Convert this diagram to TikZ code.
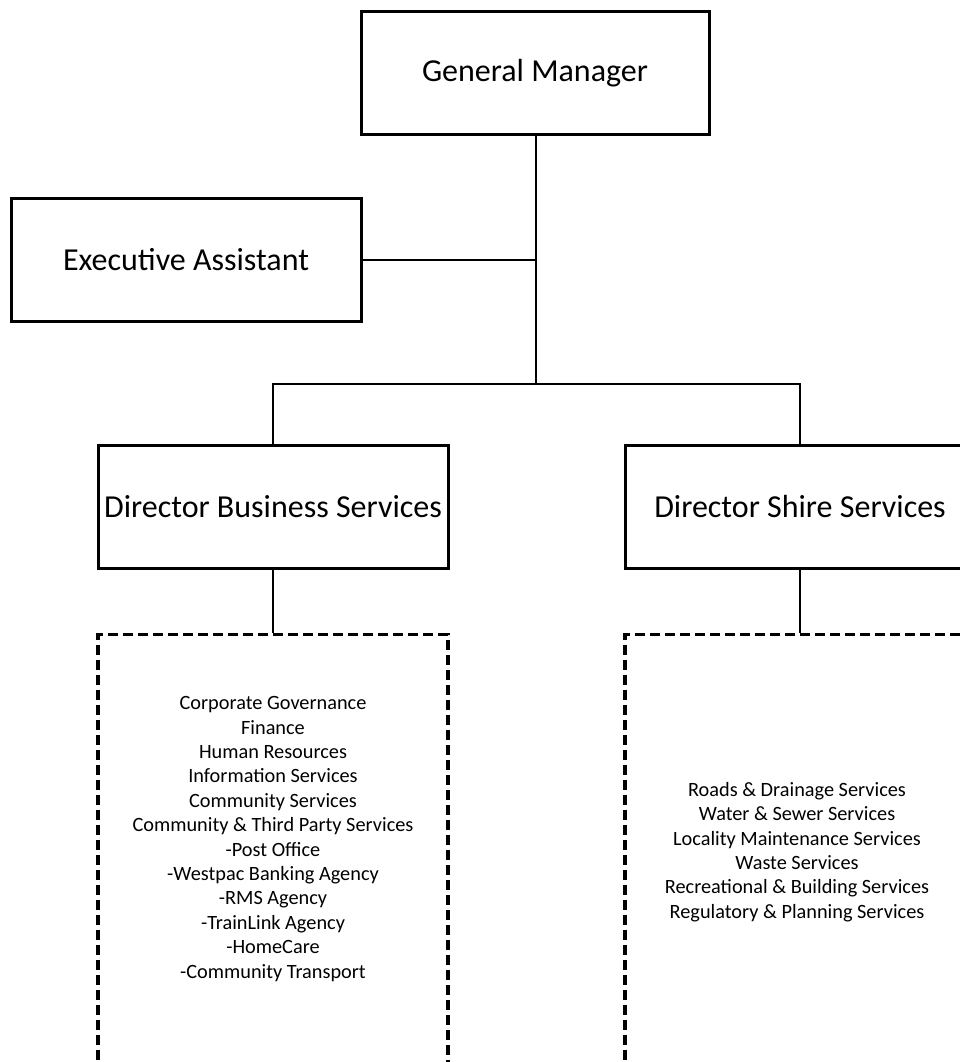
\documentclass[tikz,border=0pt]{standalone}
\usepackage{fontspec}
\setmainfont{Carlito}
\usetikzlibrary{positioning}
\tikzset{
  base/.style = {
    draw, line width=3pt, minimum height=123pt, minimum width=350pt,
    inner sep=0pt, text centered, font=\fontsize{32}{38}\selectfont
  },
  rolebox/.style = {
    base
  },
  unitbox/.style = {
    draw, line width=3.2pt, dash pattern=on 10pt off 5pt,
    minimum width=350pt, minimum height=520pt, inner sep=0pt
  },
  unitlist/.style = {
    align=center, inner sep=0pt, font=\fontsize{20.3}{24.4}\selectfont
  },
  link/.style = {
    line width=1.9pt
  }
}

\begin{document}
\begin{tikzpicture}[
  x=1pt, y=-1pt,
  node distance = 63pt and 174pt
  ]

  \useasboundingbox (0,0) rectangle (960,1062);
  \clip (0,0) rectangle (960,1062);

  % Top of the chart
  \node[rolebox, minimum width=348pt, minimum height=122pt] (gm) at (535,73) {General Manager};
  \node[rolebox] (ea) at (186,260) {Executive Assistant};

  % Directors
  \node[rolebox] (dbs) at (273,507) {Director Business Services};
  \node[rolebox, right=of dbs] (dss) {Director Shire Services};

  % Units under each director
  \node[unitbox, below=of dbs, anchor=north] (bizunits) {};
  \node[unitbox, below=of dss, anchor=north] (shireunits) {};

  \node[unitlist] (bizlist) at (273,839) {Corporate Governance\\Finance\\Human Resources\\Information Services\\Community Services\\Community \& Third Party Services\\-Post Office\\-Westpac Banking Agency\\-RMS Agency\\-TrainLink Agency\\-HomeCare\\-Community Transport};
  \node[unitlist] (shirelist) at (797,852) {Roads \& Drainage Services\\Water \& Sewer Services\\Locality Maintenance Services\\Waste Services\\Recreational \& Building Services\\Regulatory \& Planning Services};

  % Connectors
  \coordinate (split) at (536,384);
  \draw[link] (gm.south -| split) -- (split);
  \draw[link] (ea.east) -- (ea.east -| split);
  \draw[link] (dbs.north) |- (split) -| (dss.north);
  \draw[link] (dbs.south) -- (bizunits.north);
  \draw[link] (dss.south) -- (shireunits.north);

\end{tikzpicture}
\end{document}
